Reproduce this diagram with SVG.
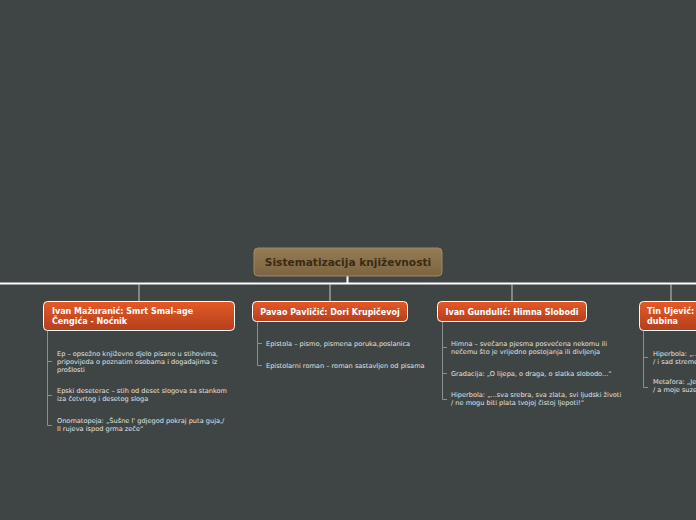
<svg xmlns="http://www.w3.org/2000/svg" width="696" height="520" viewBox="0 0 696 520">
<defs>
<linearGradient id="gRoot" x1="0" y1="0" x2="0" y2="1"><stop offset="0" stop-color="#947c55"/><stop offset="1" stop-color="#7c6441"/></linearGradient>
<linearGradient id="gNode" x1="0" y1="0" x2="0" y2="1"><stop offset="0" stop-color="#e45a27"/><stop offset="1" stop-color="#b53f1d"/></linearGradient>
<style>
.root{fill:url(#gRoot);stroke:#a08a62;stroke-width:1}
.rt{font-family:"DejaVu Sans",Verdana,sans-serif;font-weight:bold;font-size:10.6px;fill:#3b2a14}
.node{fill:url(#gNode);stroke:#ffffff;stroke-width:1}
.nt{font-family:"DejaVu Sans",Verdana,sans-serif;font-weight:bold;font-size:8px;fill:#ffffff}
.ct{font-family:"DejaVu Sans",Verdana,sans-serif;font-size:6.6px;fill:#e2e2e2}
.main{stroke:#ffffff;stroke-width:2;fill:none}
.sub{stroke:#c8c8c8;stroke-width:1;fill:none}
.br{stroke:#8a8f8f;stroke-width:1;fill:none}
</style>
</defs>
<rect width="696" height="520" fill="#3f4545"/>
<g id="connectors">
<path class="main" d="M0 283.5H696"/>
<path class="main" d="M347.5 276V283.5"/>
<path class="sub" d="M139 284V301M330 284V301M512 284V301M671 284V301"/>
<path class="br" d="M47.5 331V425.5H52M47.5 361.5H52M47.5 395.5H52"/>
<path class="br" d="M257.5 322V365.5H262M257.5 343.5H262"/>
<path class="br" d="M442.5 322V399.5H447M442.5 347.5H447M442.5 373.5H447"/>
<path class="br" d="M643.5 331V387.5H648M643.5 357.5H648"/>
</g>
<g id="root">
<rect class="root" x="254" y="248" width="188" height="28" rx="4"/>
<text class="rt" x="348" y="266" text-anchor="middle">Sistematizacija književnosti</text>
</g>
<g id="n1">
<rect class="node" x="43.5" y="301.5" width="191" height="29" rx="4"/>
<text class="nt" x="52" y="314">Ivan Mažuranić: Smrt Smal-age</text>
<text class="nt" x="52" y="324">Čengića - Noćnik</text>
</g>
<g id="n1c">
<text class="ct" x="57" y="356">Ep – opsežno književno djelo pisano u stihovima,</text>
<text class="ct" x="57" y="364">pripovijeda o poznatim osobama i događajima iz</text>
<text class="ct" x="57" y="372">prošlosti</text>
<text class="ct" x="57" y="393">Epski deseterac – stih od deset slogova sa stankom</text>
<text class="ct" x="57" y="401">iza četvrtog i desetog sloga</text>
<text class="ct" x="57" y="423">Onomatopeja: „Šušne l' gdjegod pokraj puta guja,/</text>
<text class="ct" x="57" y="431">Il rujeva ispod grma zeče“</text>
</g>
<g id="n2">
<rect class="node" x="252.5" y="301.5" width="155" height="20" rx="4"/>
<text class="nt" x="330" y="315" text-anchor="middle">Pavao Pavličić: Dori Krupičevoj</text>
</g>
<g id="n2c">
<text class="ct" x="266" y="346">Epistola – pismo, pismena poruka,poslanica</text>
<text class="ct" x="266" y="368">Epistolarni roman – roman sastavljen od pisama</text>
</g>
<g id="n3">
<rect class="node" x="437.5" y="301.5" width="149" height="20" rx="4"/>
<text class="nt" x="512" y="315" text-anchor="middle">Ivan Gundulić: Himna Slobodi</text>
</g>
<g id="n3c">
<text class="ct" x="451" y="346">Himna – svečana pjesma posvećena nekomu ili</text>
<text class="ct" x="451" y="354">nečemu što je vrijedno postojanja ili divljenja</text>
<text class="ct" x="451" y="376">Gradacija: „O lijepa, o draga, o slatka slobodo...“</text>
<text class="ct" x="451" y="397">Hiperbola: „...sva srebra, sva zlata, svi ljudski životi</text>
<text class="ct" x="451" y="405">/ ne mogu biti plata tvojoj čistoj ljepoti!“</text>
</g>
<g id="n4">
<rect class="node" x="639.5" y="301.5" width="80" height="29" rx="4"/>
<text class="nt" x="647" y="314">Tin Ujević:</text>
<text class="nt" x="647" y="324">dubina</text>
</g>
<g id="n4c">
<text class="ct" x="653" y="356">Hiperbola: „...</text>
<text class="ct" x="653" y="364">/ i sad streme</text>
<text class="ct" x="653" y="384">Metafora: „Je</text>
<text class="ct" x="653" y="392">/ a moje suze</text>
</g>
</svg>
